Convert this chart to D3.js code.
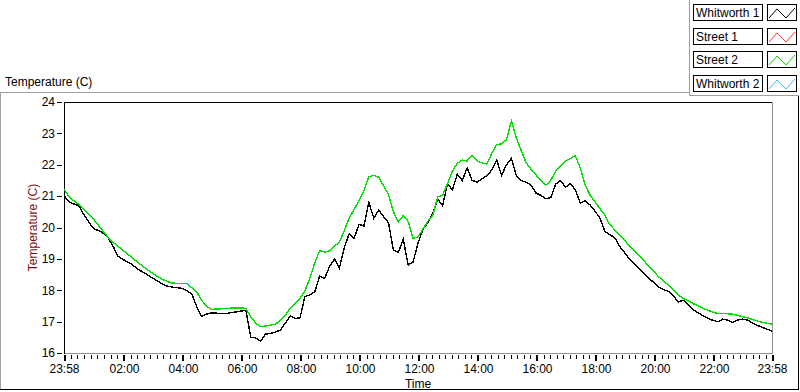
<!DOCTYPE html>
<html>
<head>
<meta charset="utf-8">
<script src="https://cdn.jsdelivr.net/npm/d3@7"></script>
<style>
  body { margin: 0; background: #fff; }
  svg { display: block; font-family: 'Liberation Sans', Arial, sans-serif; }
</style>
</head>
<body>
<div id="chart"></div>
<script>
const seriesNames = ['Whitworth 1', 'Street 1', 'Street 2', 'Whitworth 2'];
const seriesColors = ['#000000', '#ff3a3a', '#00e000', '#3cb8ff'];

const yTicks = [16, 17, 18, 19, 20, 21, 22, 23, 24];
const xTickTimes = [
  '2000-01-01 23:58', '2000-01-02 02:00', '2000-01-02 04:00', '2000-01-02 06:00',
  '2000-01-02 08:00', '2000-01-02 10:00', '2000-01-02 12:00', '2000-01-02 14:00',
  '2000-01-02 16:00', '2000-01-02 18:00', '2000-01-02 20:00', '2000-01-02 22:00',
  '2000-01-02 23:58',
];

// one reading every 10 minutes, starting 23:58
const startTime = '2000-01-01 23:58';
const stepMinutes = 10;

const whitworth1 = [
  21.02, 20.82, 20.75, 20.7, 20.42, 20.18, 19.97, 19.9, 19.82, 19.66,
  19.4, 19.08, 18.98, 18.9, 18.8, 18.68, 18.58, 18.49, 18.39, 18.3,
  18.2, 18.13, 18.1, 18.08, 18.06, 17.98, 17.88, 17.48, 17.16, 17.24,
  17.28, 17.27, 17.26, 17.26, 17.29, 17.31, 17.34, 17.35, 16.5, 16.48,
  16.38, 16.6, 16.62, 16.67, 16.73, 16.95, 17.18, 17.1, 17.12, 17.8,
  17.85, 17.95, 18.45, 18.38, 18.75, 19.0, 18.7, 19.35, 19.8, 19.65,
  20.1, 20.05, 20.8, 20.3, 20.55, 20.35, 20.15, 19.28, 19.2, 19.63,
  18.8, 18.9, 19.5, 19.94, 20.15, 20.45, 20.9, 20.7, 21.4, 21.2,
  21.7, 21.5, 21.9, 21.5, 21.45, 21.55, 21.65, 21.83, 22.15, 21.67,
  22.0, 22.2, 21.65, 21.5, 21.44, 21.35, 21.1, 21.02, 20.92, 20.95,
  21.38, 21.5, 21.28, 21.4, 21.2, 20.78, 20.85, 20.72, 20.52, 20.3,
  19.88, 19.77, 19.68, 19.4, 19.2, 19.0, 18.84, 18.67, 18.52, 18.36,
  18.25, 18.09, 18.02, 17.96, 17.8, 17.63, 17.68, 17.52, 17.37, 17.28,
  17.18, 17.1, 17.04, 17.0, 17.08, 17.05, 16.97, 17.05, 17.08, 17.05,
  16.96, 16.88, 16.82, 16.76, 16.7,
];

const street2 = [
  21.22, 20.98, 20.85, 20.74, 20.58, 20.43, 20.26, 20.07, 19.87, 19.67,
  19.52, 19.4, 19.27, 19.15, 19.02, 18.89, 18.77, 18.65, 18.55, 18.44,
  18.35, 18.28, 18.23, 18.22, 18.22, 18.21, 18.08, 17.95, 17.68, 17.48,
  17.39, 17.4, 17.41, 17.42, 17.43, 17.44, 17.44, 17.42, 17.15, 16.95,
  16.84, 16.86, 16.89, 16.92, 17.03, 17.19, 17.43, 17.59, 17.75, 17.98,
  18.38, 18.87, 19.26, 19.22, 19.25, 19.41, 19.53, 19.9, 20.3, 20.58,
  20.85, 21.18, 21.62, 21.66, 21.6, 21.33, 21.05, 20.5, 20.18, 20.38,
  20.2, 19.65, 19.7, 19.95, 20.2, 20.38, 20.97, 21.03, 21.4, 21.8,
  22.05, 22.15, 22.12, 22.3, 22.12, 22.06, 22.02, 22.36, 22.65, 22.66,
  22.8, 23.4, 22.85, 22.45, 22.06, 21.86, 21.68, 21.49, 21.35, 21.5,
  21.8, 21.95, 22.12, 22.2, 22.29, 21.9, 21.35, 21.03, 20.82, 20.6,
  20.4, 20.09, 19.93, 19.77, 19.6, 19.41, 19.25, 19.09, 18.93, 18.76,
  18.59, 18.42, 18.29, 18.15, 18.0, 17.84, 17.74, 17.66, 17.57, 17.5,
  17.42, 17.36, 17.3, 17.26, 17.25, 17.25, 17.24, 17.2, 17.16, 17.12,
  17.07, 17.02, 16.98, 16.95, 16.92,
];

const width = 800,
  height = 392,
  plotLeft = 64,
  plotRight = 772,
  plotTop = 102,
  plotBottom = 353;

const parse = d3.timeParse('%Y-%m-%d %H:%M');
const t0 = parse(startTime);
const majorTicks = xTickTimes.map(parse);

const toPoints = (values) =>
  values.map((v, i) => ({ time: d3.timeMinute.offset(t0, i * stepMinutes), temp: v }));

const xScale = d3
  .scaleTime()
  .domain([majorTicks[0], majorTicks[majorTicks.length - 1]])
  .range([plotLeft, plotRight]);

const yScale = d3.scaleLinear().domain([16, 24]).range([plotBottom, plotTop]);

const svg = d3
  .select('#chart')
  .append('svg')
  .attr('width', width)
  .attr('height', height);

// outer panel frame
const frame = svg.append('g').attr('shape-rendering', 'crispEdges');
frame.append('line').attr('x1', 0).attr('x2', 689).attr('y1', 92.5).attr('y2', 92.5).attr('stroke', '#a0a0a0');
frame.append('line').attr('x1', 0.5).attr('x2', 0.5).attr('y1', 92).attr('y2', 390).attr('stroke', '#a0a0a0');
frame.append('line').attr('x1', 0).attr('x2', 799).attr('y1', 389.5).attr('y2', 389.5).attr('stroke', '#000');
frame.append('line').attr('x1', 798.5).attr('x2', 798.5).attr('y1', 95).attr('y2', 390).attr('stroke', '#000');
frame.append('line').attr('x1', 689.5).attr('x2', 689.5).attr('y1', 0).attr('y2', 95).attr('stroke', '#a0a0a0');
frame.append('line').attr('x1', 689).attr('x2', 799).attr('y1', 95.5).attr('y2', 95.5).attr('stroke', '#a0a0a0');

svg
  .append('text')
  .attr('x', 5)
  .attr('y', 86)
  .attr('font-size', 12)
  .text('Temperature (C)');

// legend
const legend = svg
  .append('g')
  .selectAll('g')
  .data(seriesNames)
  .enter()
  .append('g')
  .attr('transform', (d, i) => `translate(0, ${4 + Math.round(i * 23.5)})`);

legend
  .append('rect')
  .attr('x', 693.5)
  .attr('y', 0.5)
  .attr('width', 69)
  .attr('height', 16)
  .attr('fill', '#fff')
  .attr('stroke', '#000')
  .attr('shape-rendering', 'crispEdges');

legend
  .append('text')
  .attr('x', 696)
  .attr('y', 13)
  .attr('font-size', 12)
  .text((d) => d);

legend
  .append('rect')
  .attr('x', 767.5)
  .attr('y', 0.5)
  .attr('width', 29)
  .attr('height', 16)
  .attr('fill', '#fff')
  .attr('stroke', '#000')
  .attr('shape-rendering', 'crispEdges');

legend
  .append('path')
  .attr('d', 'M769,14L777,5L786,14L795,4')
  .attr('fill', 'none')
  .attr('stroke', (d, i) => seriesColors[i]);

// plot area frame
const plotFrame = svg.append('g').attr('shape-rendering', 'crispEdges');
plotFrame.append('line').attr('x1', plotRight + 0.5).attr('x2', plotRight + 0.5).attr('y1', plotTop).attr('y2', plotBottom + 1).attr('stroke', '#909090');
plotFrame.append('line').attr('x1', plotLeft).attr('x2', plotRight + 1).attr('y1', plotBottom + 0.5).attr('y2', plotBottom + 0.5).attr('stroke', '#909090');
plotFrame.append('line').attr('x1', plotLeft).attr('x2', plotRight).attr('y1', plotTop + 0.5).attr('y2', plotTop + 0.5).attr('stroke', '#000');
plotFrame.append('line').attr('x1', plotLeft + 0.5).attr('x2', plotLeft + 0.5).attr('y1', plotTop).attr('y2', plotBottom + 1).attr('stroke', '#000');

// lines, drawn without anti-aliasing like the original instrument plot
const line = d3
  .line()
  .x((d) => xScale(d.time))
  .y((d) => yScale(d.temp));

svg
  .append('g')
  .selectAll('path')
  .data([
    { values: toPoints(whitworth1), color: seriesColors[0] },
    { values: toPoints(street2), color: seriesColors[2] },
  ])
  .enter()
  .append('path')
  .attr('d', (d) => line(d.values))
  .attr('fill', 'none')
  .attr('stroke', (d) => d.color)
  .attr('stroke-width', 1.4)
  .attr('shape-rendering', 'crispEdges');

// y axis
const yAxis = svg
  .append('g')
  .attr('transform', `translate(${plotLeft - 2}, 0)`)
  .call(d3.axisLeft(yScale).tickValues(yTicks).tickSize(5).tickPadding(2));
yAxis.select('.domain').remove();
yAxis.selectAll('text').attr('font-size', 12).attr('font-family', null).attr('fill', '#000');
yAxis.selectAll('line').attr('shape-rendering', 'crispEdges');

// x axis: minor ticks between each pair of labelled ticks
const minorTicks = [];
for (let i = 0; i < majorTicks.length - 1; i++) {
  const a = +majorTicks[i],
    b = +majorTicks[i + 1];
  for (let k = 1; k < 9; k++) minorTicks.push(new Date(a + ((b - a) * k) / 9));
}

const xMinor = svg
  .append('g')
  .attr('transform', `translate(0, ${plotBottom + 2})`)
  .call(d3.axisBottom(xScale).tickValues(minorTicks).tickSize(4).tickFormat(''));
xMinor.select('.domain').remove();
xMinor.selectAll('line').attr('shape-rendering', 'crispEdges');

const xAxis = svg
  .append('g')
  .attr('transform', `translate(0, ${plotBottom + 2})`)
  .call(
    d3
      .axisBottom(xScale)
      .tickValues(majorTicks)
      .tickSize(6)
      .tickPadding(3)
      .tickFormat(d3.timeFormat('%H:%M'))
  );
xAxis.select('.domain').remove();
xAxis.selectAll('line').attr('stroke-width', 2).attr('shape-rendering', 'crispEdges');
xAxis.selectAll('text').attr('font-size', 12).attr('font-family', null).attr('fill', '#000');

// axis names
svg
  .append('text')
  .attr('transform', `translate(37, ${(plotTop + plotBottom) / 2}) rotate(-90)`)
  .attr('text-anchor', 'middle')
  .attr('font-size', 12)
  .attr('fill', '#7a0f0f')
  .text('Temperature (C)');

svg
  .append('text')
  .attr('x', (plotLeft + plotRight) / 2)
  .attr('y', 388)
  .attr('text-anchor', 'middle')
  .attr('font-size', 12)
  .text('Time');
</script>
</body>
</html>
